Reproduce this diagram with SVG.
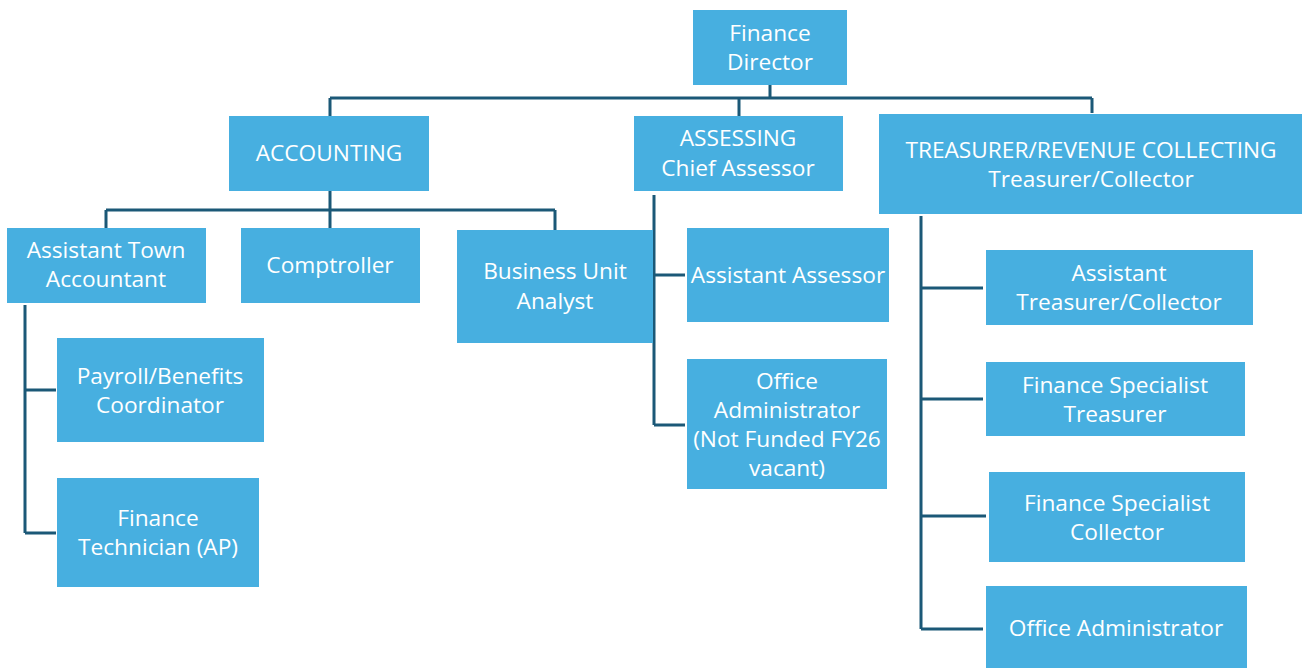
<svg xmlns="http://www.w3.org/2000/svg" width="1302" height="668" viewBox="0 0 1302 668">
<style>
.box{fill:#47AFE0;}
.t{font-family:"Open Sans","Liberation Sans",sans-serif;font-size:22.7px;fill:#FFFFFF;text-anchor:middle;}
.c{fill:none;stroke:#1B5877;stroke-width:3;}
</style>
<rect width="1302" height="668" fill="#FFFFFF"/>
<g id="connectors">
<path class="c" d="M770 85 V98 M330 98 H1092 M330 98 V116 M739 98 V116 M1092 98 V113"/>
<path class="c" d="M330 191 V210 M106 210 H555 M106 210 V228 M330 210 V228 M555 210 V230"/>
<path class="c" d="M25 305 V533 M25 390 H56 M25 533 H56"/>
<path class="c" d="M654 195 V425 M654 275 H685 M654 425 H685"/>
<path class="c" d="M921 216 V629 M921 288 H983 M921 399 H983 M921 516 H986 M921 629 H983"/>
</g>
<g id="finance-director"><rect class="box" x="693" y="10" width="154" height="75"/><text class="t" x="770" y="41">Finance</text><text class="t" x="770" y="70">Director</text></g>
<g id="accounting"><rect class="box" x="229" y="116" width="200" height="75"/><text class="t" x="329" y="161">ACCOUNTING</text></g>
<g id="assessing"><rect class="box" x="634" y="116" width="209" height="75"/><text class="t" x="738" y="146">ASSESSING</text><text class="t" x="738" y="176">Chief Assessor</text></g>
<g id="treasurer"><rect class="box" x="879" y="114" width="423" height="100"/><text class="t" x="1091" y="158">TREASURER/REVENUE COLLECTING</text><text class="t" x="1091" y="187">Treasurer/Collector</text></g>
<g id="assistant-town-accountant"><rect class="box" x="7" y="228" width="199" height="75"/><text class="t" x="106" y="258">Assistant Town</text><text class="t" x="106" y="287">Accountant</text></g>
<g id="comptroller"><rect class="box" x="241" y="228" width="179" height="75"/><text class="t" x="330" y="273">Comptroller</text></g>
<g id="business-unit-analyst"><rect class="box" x="457" y="230" width="196" height="113"/><text class="t" x="555" y="279">Business Unit</text><text class="t" x="555" y="309">Analyst</text></g>
<g id="assistant-assessor"><rect class="box" x="687" y="228" width="202" height="94"/><text class="t" x="788" y="283">Assistant Assessor</text></g>
<g id="office-administrator-assessing"><rect class="box" x="687" y="359" width="200" height="130"/><text class="t" x="787" y="389">Office</text><text class="t" x="787" y="418">Administrator</text><text class="t" x="787" y="447">(Not Funded FY26</text><text class="t" x="787" y="476">vacant)</text></g>
<g id="payroll-benefits"><rect class="box" x="57" y="338" width="207" height="104"/><text class="t" x="160" y="384">Payroll/Benefits</text><text class="t" x="160" y="413">Coordinator</text></g>
<g id="finance-technician"><rect class="box" x="57" y="478" width="202" height="109"/><text class="t" x="158" y="526">Finance</text><text class="t" x="158" y="555">Technician (AP)</text></g>
<g id="assistant-treasurer"><rect class="box" x="986" y="250" width="267" height="75"/><text class="t" x="1119" y="281">Assistant</text><text class="t" x="1119" y="310">Treasurer/Collector</text></g>
<g id="finance-specialist-treasurer"><rect class="box" x="986" y="362" width="259" height="74"/><text class="t" x="1115" y="393">Finance Specialist</text><text class="t" x="1115" y="422">Treasurer</text></g>
<g id="finance-specialist-collector"><rect class="box" x="989" y="472" width="256" height="90"/><text class="t" x="1117" y="511">Finance Specialist</text><text class="t" x="1117" y="540">Collector</text></g>
<g id="office-administrator-treasurer"><rect class="box" x="986" y="586" width="261" height="82"/><text class="t" x="1116" y="636">Office Administrator</text></g>
</svg>
